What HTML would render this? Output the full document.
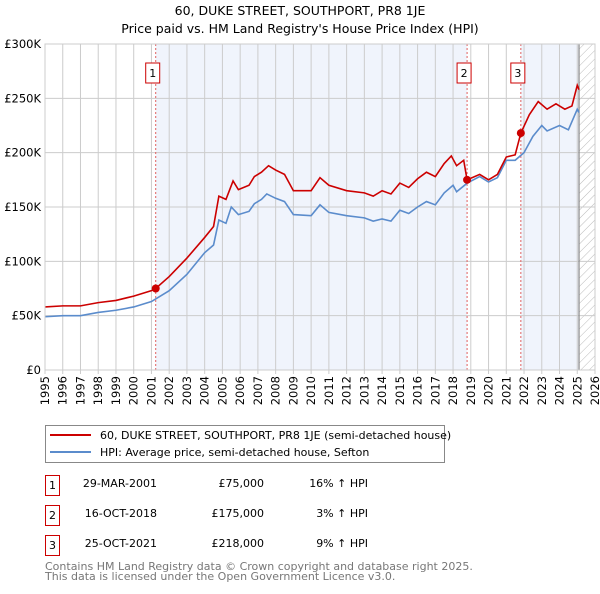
<!DOCTYPE html>
<html><head><meta charset="utf-8"><style>
body{margin:0;background:#fff;font-family:"DejaVu Sans","Liberation Sans",sans-serif;}
svg text{font-family:"DejaVu Sans","Liberation Sans",sans-serif;}
</style></head><body>
<svg id="c" width="600" height="590" xmlns="http://www.w3.org/2000/svg">
<defs><pattern id="hatch" width="6" height="6" patternUnits="userSpaceOnUse" patternTransform="rotate(45)"><line x1="0" y1="0" x2="0" y2="6" stroke="#bbb" stroke-width="1"/></pattern></defs>
<text x="300" y="15" text-anchor="middle" font-size="12.5" fill="#000">60, DUKE STREET, SOUTHPORT, PR8 1JE</text>
<text x="300" y="33" text-anchor="middle" font-size="12.5" fill="#000">Price paid vs. HM Land Registry's House Price Index (HPI)</text>
<g id="plot"></g>
<g>
<rect x="45.5" y="425.5" width="399" height="37" fill="#fff" stroke="#888"/>
<line x1="50" y1="435" x2="91" y2="435" stroke="#cc0000" stroke-width="2"/>
<text x="100" y="439" font-size="11">60, DUKE STREET, SOUTHPORT, PR8 1JE (semi-detached house)</text>
<line x1="50" y1="452" x2="91" y2="452" stroke="#5b8ccc" stroke-width="2"/>
<text x="100" y="456" font-size="11">HPI: Average price, semi-detached house, Sefton</text>
</g>
<g font-size="11">
<g><rect x="45.5" y="475.5" width="14" height="20" fill="#fff" stroke="#cc0000"/><text x="52.5" y="489" text-anchor="middle">1</text><text x="157" y="487" text-anchor="end">29-MAR-2001</text><text x="264" y="487" text-anchor="end">£75,000</text><text x="368" y="487" text-anchor="end">16% ↑ HPI</text></g>
<g><rect x="45.5" y="505.5" width="14" height="20" fill="#fff" stroke="#cc0000"/><text x="52.5" y="519" text-anchor="middle">2</text><text x="157" y="517" text-anchor="end">16-OCT-2018</text><text x="264" y="517" text-anchor="end">£175,000</text><text x="368" y="517" text-anchor="end">3% ↑ HPI</text></g>
<g><rect x="45.5" y="535.5" width="14" height="20" fill="#fff" stroke="#cc0000"/><text x="52.5" y="549" text-anchor="middle">3</text><text x="157" y="547" text-anchor="end">25-OCT-2021</text><text x="264" y="547" text-anchor="end">£218,000</text><text x="368" y="547" text-anchor="end">9% ↑ HPI</text></g>
</g>
<text x="45" y="570" font-size="11" fill="#777">Contains HM Land Registry data © Crown copyright and database right 2025.</text>
<text x="45" y="580" font-size="11" fill="#777">This data is licensed under the Open Government Licence v3.0.</text>
</svg>
<script>
const hpiYears=[1995,1996,1997,1998,1999,2000,2001,2002,2003,2004,2004.5,2004.8,2005.2,2005.5,2005.9,2006.5,2006.8,2007.2,2007.5,2008,2008.5,2009,2010,2010.5,2011,2012,2013,2013.5,2014,2014.5,2015,2015.5,2016,2016.5,2017,2017.5,2018,2018.2,2018.8,2019.5,2020,2020.5,2021,2021.5,2022,2022.5,2023,2023.3,2024,2024.5,2025,2025.1];
const hpiValues=[49,50,50,53,55,58,63,73,88,108,115,138,135,150,143,146,153,157,162,158,155,143,142,152,145,142,140,137,139,137,147,144,150,155,152,163,170,164,172,178,173,177,193,193,200,215,225,220,225,221,240,237];
const priceYears=[1995,1996,1997,1998,1999,2000,2001,2001.24,2002,2003,2004,2004.5,2004.8,2005.2,2005.6,2005.9,2006.5,2006.8,2007.2,2007.6,2008,2008.5,2009,2010,2010.5,2011,2012,2013,2013.5,2014,2014.5,2015,2015.5,2016,2016.5,2017,2017.5,2017.9,2018.2,2018.6,2018.79,2019.5,2020,2020.5,2021,2021.5,2021.82,2022.3,2022.8,2023.3,2023.8,2024.3,2024.7,2025,2025.1];
const priceValues=[58,59,59,62,64,68,73,75,86,103,122,132,160,157,174,166,170,178,182,188,184,180,165,165,177,170,165,163,160,165,162,172,168,176,182,178,190,197,188,193,175,180,175,180,196,198,218,235,247,240,245,240,243,262,258];
const saleLabels=["1","2","3"];
const saleYears=[2001.24,2018.79,2021.82];
const saleValues=[75,175,218];
const yTicks=[0,50,100,150,200,250,300];
const yTickLabels=["£0","£50K","£100K","£150K","£200K","£250K","£300K"];
const xTicks=[1995,1996,1997,1998,1999,2000,2001,2002,2003,2004,2005,2006,2007,2008,2009,2010,2011,2012,2013,2014,2015,2016,2017,2018,2019,2020,2021,2022,2023,2024,2025,2026];

const X0=45,X1=595,Y0=370,Y1=44;
const xs=y=>X0+(y-1995)/31*(X1-X0);
const ys=v=>Y0-v/300*(Y0-Y1);
const NS="http://www.w3.org/2000/svg";
const g=document.getElementById('plot');
function mk(t,a,p){const e=document.createElementNS(NS,t);for(const k in a)e.setAttribute(k,a[k]);(p||g).appendChild(e);return e;}
let e;
e=mk('rect',{x:xs(saleYears[0]),y:Y1,width:xs(saleYears[1])-xs(saleYears[0]),height:Y0-Y1,fill:'#f0f4fc'});


e=mk('rect',{x:xs(saleYears[2]),y:Y1,width:xs(2025.1)-xs(saleYears[2]),height:Y0-Y1,fill:'#f0f4fc'});


e=mk('rect',{x:xs(2025.1),y:Y1,width:X1-xs(2025.1),height:Y0-Y1,fill:'url(#hatch)'});


xTicks.forEach(t=>{const l=mk('line',{x1:xs(t),x2:xs(t),y1:Y1,y2:Y0+4,stroke:'#ccc'});


const tx=mk('text',{x:0,y:0,transform:`translate(${xs(t)+4},${Y0+6}) rotate(-90)`,'text-anchor':'end','font-size':'11.5'});tx.textContent=t;

});
yTicks.forEach((t,i)=>{const l=mk('line',{x1:X0,x2:X1,y1:ys(t),y2:ys(t),stroke:'#ccc'});


const tx=mk('text',{x:X0-4,y:ys(t)+4,'text-anchor':'end','font-size':'11.5'});tx.textContent=yTickLabels[i];

});
e=mk('line',{x1:xs(2025.1),x2:xs(2025.1),y1:Y1,y2:Y0,stroke:'#888','stroke-width':1.2});


saleYears.forEach((s,i)=>{const l=mk('line',{x1:xs(s),x2:xs(s),y1:Y1,y2:Y0,stroke:'#e06060','stroke-dasharray':'2,2'});


const r=mk('rect',{x:xs(s)-10,y:63,width:14,height:20,fill:'#fff',stroke:'#cc0000'});


const tx=mk('text',{x:xs(s)-3,y:77,'text-anchor':'middle','font-size':'11'});tx.textContent=saleLabels[i];

});
e=mk('polyline',{points:hpiYears.map((y,i)=>xs(y)+','+ys(hpiValues[i])).join(' '),fill:'none',stroke:'#5b8ccc','stroke-width':1.6});


e=mk('polyline',{points:priceYears.map((y,i)=>xs(y)+','+ys(priceValues[i])).join(' '),fill:'none',stroke:'#cc0000','stroke-width':1.6});


saleYears.forEach((s,i)=>{const c=mk('circle',{cx:xs(s),cy:ys(saleValues[i]),r:4,fill:'#cc0000'});

});
e=mk('rect',{x:X0,y:Y1,width:X1-X0,height:Y0-Y1,fill:'none',stroke:'#ccc'});


</script>
</body></html>
